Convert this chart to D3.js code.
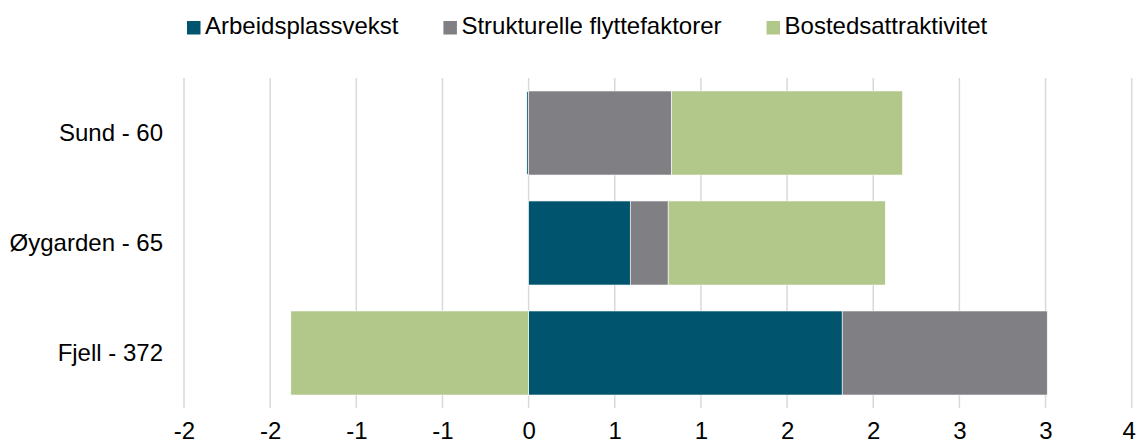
<!DOCTYPE html>
<html>
  <head>
    <meta charset="utf-8">
    <title>Flyttefaktorer</title>
    <style media="screen">
    body{margin: 0; background: #fff}
    text{font-family: "Liberation Sans", Arial, sans-serif; fill: #000}
    </style>
  </head>
  <body>
    <script src="https://d3js.org/d3.v7.min.js"></script>
    <script type="text/javascript">
      var w = 1137, h = 445;

      // kommuner (y-akse), ovenfra og ned
      var kommuner = ['Sund - 60', 'Øygarden - 65', 'Fjell - 372']
      var serier = ['Arbeidsplassvekst', 'Strukturelle flyttefaktorer', 'Bostedsattraktivitet']
      var farger = ['#00546e', '#807f83', '#b2c78a']

      var arbeidsplassvekst = [-0.01, 0.59, 1.82]
      var strukturelle = [0.83, 0.22, 1.19]
      var bosted = [1.34, 1.26, -1.38]

      // tick-verdier, vist avrundet til heltall slik som i originalen
      var tickVerdier = [-2, -1.5, -1, -0.5, 0, 0.5, 1, 1.5, 2, 2.5, 3, 3.5]

      var rows = kommuner.map(function(k, i){
        return {
          kommune: k,
          'Arbeidsplassvekst': arbeidsplassvekst[i],
          'Strukturelle flyttefaktorer': strukturelle[i],
          'Bostedsattraktivitet': bosted[i]
        }
      })

      var stacked = d3.stack()
        .keys(serier)
        .offset(d3.stackOffsetDiverging)(rows)

      var x = d3.scaleLinear().domain([-2, 3.5]).range([184, 1131.7])
      var y = d3.scaleBand().domain(kommuner).range([78, 408])
        .paddingInner(0.236).paddingOuter(0.118)
      var color = d3.scaleOrdinal().domain(serier).range(farger)

      var svg = d3.select('body').append('svg')
        .attr('width', w)
        .attr('height', h)

      // gridlinjer
      svg.append('g').selectAll('line')
        .data(tickVerdier)
        .enter().append('line')
          .attr('x1', function(d){ return x(d) })
          .attr('x2', function(d){ return x(d) })
          .attr('y1', 78)
          .attr('y2', 408)
          .attr('stroke', '#d9d9d9')
          .attr('stroke-width', 1.5)

      // stolper
      svg.append('g').selectAll('g')
        .data(stacked)
        .enter().append('g')
          .attr('fill', function(d){ return color(d.key) })
        .selectAll('rect')
        .data(function(d){ return d })
        .enter().append('rect')
          .attr('x', function(d){ return x(Math.min(d[0], d[1])) })
          .attr('width', function(d){ return Math.abs(x(d[1]) - x(d[0])) })
          .attr('y', function(d){ return y(d.data.kommune) })
          .attr('height', y.bandwidth())
          .attr('stroke', '#fff')
          .attr('stroke-width', 0.6)

      // x-akse
      var fmt = function(v){
        var r = Math.sign(v) * Math.round(Math.abs(v))
        return r === 0 ? '0' : String(r)
      }
      var xAxis = svg.append('g')
        .attr('transform', 'translate(0,' + 408 + ')')
        .call(d3.axisBottom(x).tickValues(tickVerdier).tickFormat(fmt).tickSize(0).tickPadding(14))
      xAxis.select('.domain').remove()
      xAxis.selectAll('text')
        .attr('font-size', 24)
        .attr('font-family', '"Liberation Sans", Arial, sans-serif')
        .attr('fill', '#000')
      // siste etikett ligger helt i kanten
      xAxis.selectAll('.tick:last-of-type text').attr('dx', -3)

      // y-akse
      var yAxis = svg.append('g')
        .attr('transform', 'translate(163,0)')
        .call(d3.axisLeft(y).tickSize(0).tickPadding(0))
      yAxis.select('.domain').remove()
      yAxis.selectAll('text')
        .attr('font-size', 24)
        .attr('font-family', '"Liberation Sans", Arial, sans-serif')
        .attr('fill', '#000')

      // forklaring
      var legend = svg.append('g').attr('transform', 'translate(187,0)')
      var lx = 0
      serier.forEach(function(s){
        var item = legend.append('g').attr('transform', 'translate(' + lx + ',0)')
        item.append('rect')
          .attr('x', 0).attr('y', 21)
          .attr('width', 13.5).attr('height', 13.5)
          .attr('fill', color(s))
        var t = item.append('text')
          .attr('x', 18).attr('y', 34)
          .attr('font-size', 24)
          .text(s)
        lx += 18 + t.node().getComputedTextLength() + 45
      })
    </script>
  </body>
</html>
